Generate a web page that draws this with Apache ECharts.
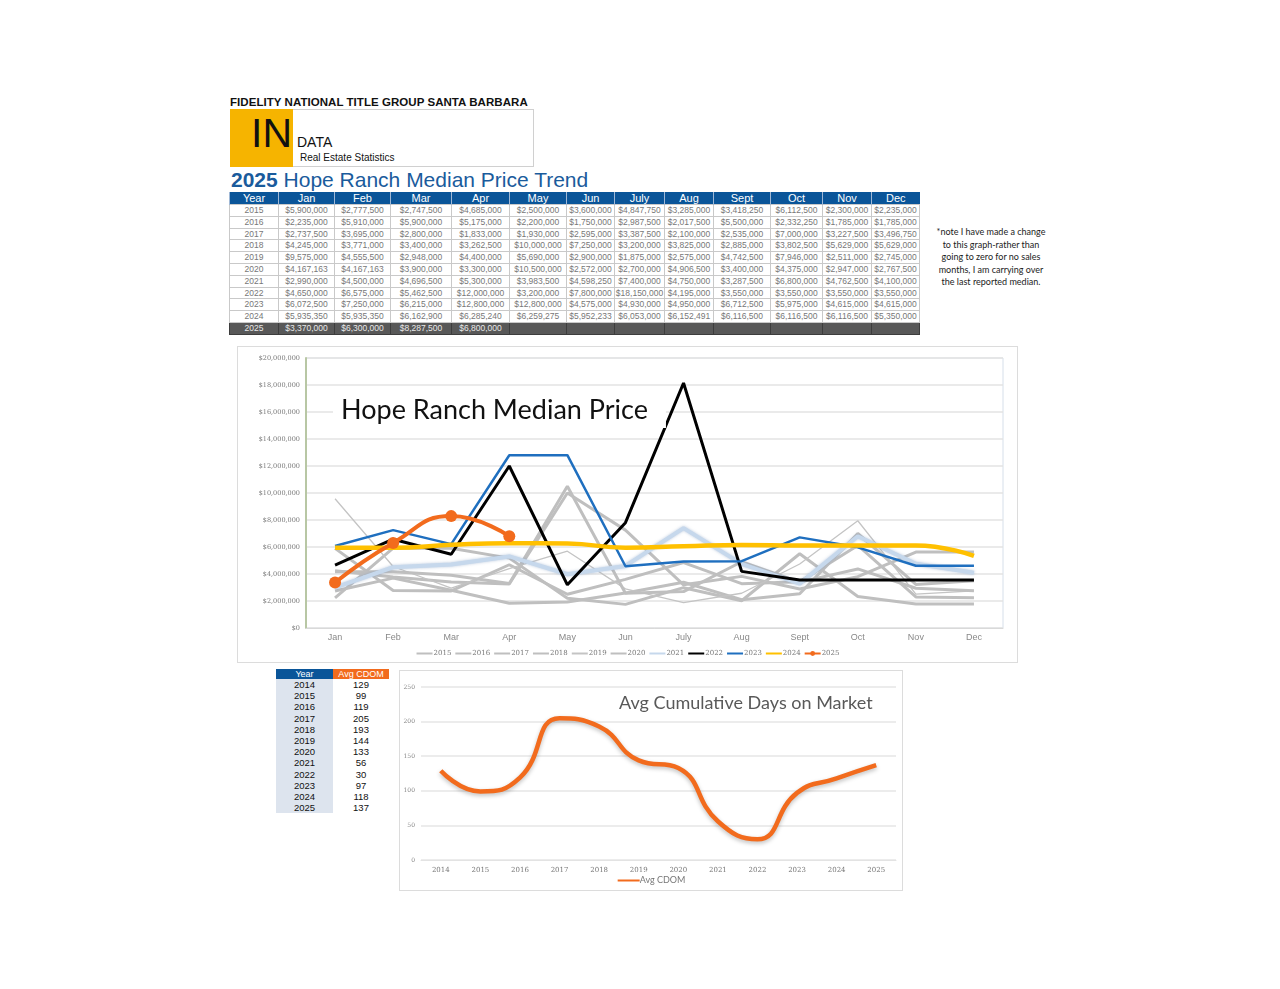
<!DOCTYPE html>
<html>
<head>
<meta charset="utf-8">
<script src="https://cdn.jsdelivr.net/npm/echarts@6/dist/echarts.min.js"></script>
<style>
  html,body{margin:0;padding:0;background:#fff;width:1280px;height:989px;overflow:hidden;}
  .abs{position:absolute;}
  body{font-family:"Liberation Sans",Arial,sans-serif;}
  table{border-collapse:collapse;table-layout:fixed;}
  #priceTable td,#priceTable th{padding:0;text-align:center;white-space:nowrap;overflow:hidden;}
  #priceTable th{background:#0a5599;color:#fff;font-weight:normal;font-size:11px;height:12px;line-height:12px;border-left:1px solid #9fb8d6;}
  #priceTable td{font-size:8.5px;color:#777;height:10.8px;line-height:10.8px;border:1px solid #c9c9c9;background:#fff;}
  #priceTable tr.last td{background:#585858;color:#e8e8e8;border-color:#3d3d3d;}
  #cdomTable td,#cdomTable th{padding:0;text-align:center;}
  #cdomTable th{font-weight:normal;color:#fff;font-size:9px;height:10px;line-height:10px;}
  #cdomTable td{font-size:9.5px;color:#111;height:11.2px;line-height:11.2px;}
</style>
</head>
<body>
<script>
// ---------- DATA ----------
var months = ["Jan","Feb","Mar","Apr","May","Jun","July","Aug","Sept","Oct","Nov","Dec"];
var years = ["2015","2016","2017","2018","2019","2020","2021","2022","2023","2024","2025"];
var y2015 = [5900000,2777500,2747500,4685000,2500000,3600000,4847750,3285000,3418250,6112500,2300000,2235000];
var y2016 = [2235000,5910000,5900000,5175000,2200000,1750000,2987500,2017500,5500000,2332250,1785000,1785000];
var y2017 = [2737500,3695000,2800000,1833000,1930000,2595000,3387500,2100000,2535000,7000000,3227500,3496750];
var y2018 = [4245000,3771000,3400000,3262500,10000000,7250000,3200000,3825000,2885000,3802500,5629000,5629000];
var y2019 = [9575000,4555500,2948000,4400000,5690000,2900000,1875000,2575000,4742500,7946000,2511000,2745000];
var y2020 = [4167163,4167163,3900000,3300000,10500000,2572000,2700000,4906500,3400000,4375000,2947000,2767500];
var y2021 = [2990000,4500000,4696500,5300000,3983500,4598250,7400000,4750000,3287500,6800000,4762500,4100000];
var y2022 = [4650000,6575000,5462500,12000000,3200000,7800000,18150000,4195000,3550000,3550000,3550000,3550000];
var y2023 = [6072500,7250000,6215000,12800000,12800000,4575000,4930000,4950000,6712500,5975000,4615000,4615000];
var y2024 = [5935350,5935350,6162900,6285240,6259275,5952233,6053000,6152491,6116500,6116500,6116500,5350000];
var y2025 = [3370000,6300000,8287500,6800000];
var priceTicks = [0,2000000,4000000,6000000,8000000,10000000,12000000,14000000,16000000,18000000,20000000];

var cdomYears = ["2014","2015","2016","2017","2018","2019","2020","2021","2022","2023","2024","2025"];
var cdomValues = [129,99,119,205,193,144,133,56,30,97,118,137];
var cdomTicks = [0,50,100,150,200,250];

var noteLines = ["*note I have made a change","to this graph-rather than","going to zero for no sales","months, I am carrying over","the last reported median."];
// ---------------------------

var allYears = [y2015,y2016,y2017,y2018,y2019,y2020,y2021,y2022,y2023,y2024,y2025];
function money(v){return "$" + Number(v).toLocaleString("en-US");}
</script>

<div class="abs" style="left:230px;top:96px;font-size:11.5px;font-weight:bold;color:#111;letter-spacing:0.05px;white-space:nowrap;">FIDELITY NATIONAL TITLE GROUP SANTA BARBARA</div>
<div class="abs" style="left:230px;top:109px;width:302px;height:56px;border:1px solid #d0d0d0;"></div>
<div class="abs" style="left:230px;top:109px;width:63px;height:58px;background:#f6b400;"></div>
<div class="abs" style="left:251px;top:111px;font-size:41px;color:#111;font-family:'Liberation Sans',Arial;line-height:44px;">IN</div>
<div class="abs" style="left:297px;top:134px;font-size:14px;color:#111;">DATA</div>
<div class="abs" style="left:300px;top:152px;font-size:10px;color:#111;">Real Estate Statistics</div>
<div class="abs" style="left:231px;top:168px;font-size:21px;color:#1a5b9c;white-space:nowrap;"><b>2025</b> Hope Ranch Median Price Trend</div>

<div id="priceTableWrap" class="abs" style="left:229px;top:192px;"></div>
<div id="note" class="abs" style="left:926px;top:226px;width:130px;text-align:center;font-family:Lato,'Open Sans',sans-serif;font-size:9px;line-height:12.5px;color:#222;"></div>

<div class="abs" style="left:237px;top:346px;width:779px;height:315px;border:1px solid #dcdcdc;"></div>
<div id="main" class="abs" style="left:238px;top:347px;width:779px;height:315px;"></div>

<div id="cdomWrap" class="abs" style="left:276px;top:669px;"></div>

<div class="abs" style="left:399px;top:670px;width:502px;height:219px;border:1px solid #dcdcdc;"></div>
<div id="cdom" class="abs" style="left:400px;top:671px;width:502px;height:219px;"></div>

<script>
// price table
(function(){
  var widths=[49,56,56,61,58,57,48,50,49,57,52,49,48];
  var h='<table id="priceTable" style="width:690px;"><colgroup>';
  widths.forEach(function(w){h+='<col style="width:'+w+'px">';});
  h+='</colgroup><tr><th>Year</th>';
  months.forEach(function(m){h+='<th>'+m+'</th>';});
  h+='</tr>';
  years.forEach(function(y,i){
    h+='<tr'+(i===years.length-1?' class="last"':'')+'><td>'+y+'</td>';
    for(var k=0;k<12;k++){var v=allYears[i][k];h+='<td>'+(v!=null?money(v):'')+'</td>';}
    h+='</tr>';
  });
  h+='</table>';
  document.getElementById('priceTableWrap').innerHTML=h;
  document.getElementById('note').innerHTML=noteLines.join('<br>');
  var c='<table id="cdomTable" style="width:113px;"><colgroup><col style="width:57px"><col style="width:56px"></colgroup>';
  c+='<tr><th style="background:#0a5599">Year</th><th style="background:#f26b1d">Avg CDOM</th></tr>';
  cdomYears.forEach(function(y,i){c+='<tr><td style="background:#dde4ee">'+y+'</td><td style="background:#fff">'+cdomValues[i]+'</td></tr>';});
  c+='</table>';
  document.getElementById('cdomWrap').innerHTML=c;
})();

// main chart
var styles = [
  {c:'#bfbfbf',w:3},{c:'#bfbfbf',w:3},{c:'#bfbfbf',w:3},{c:'#bfbfbf',w:3},
  {c:'#c4c4c4',w:1.3},{c:'#bfbfbf',w:3},{c:'#c6d8ec',w:4,sh:true},
  {c:'#000000',w:3},{c:'#1f6fbf',w:2.5},{c:'#ffc000',w:4.5,smooth:true},
  {c:'#f26b1d',w:4,smooth:true,sym:true}
];
var series = years.map(function(y,i){
  var s=styles[i];
  return {
    name:y,type:'line',data:allYears[i],
    smooth:s.smooth?0.5:false,
    symbol:s.sym?'circle':'none',symbolSize:12,showSymbol:!!s.sym,
    lineStyle:{color:s.c,width:s.w,shadowBlur:s.sh?3:0,shadowColor:'rgba(120,150,190,0.5)'},
    itemStyle:{color:s.c},
    emphasis:{disabled:true},
    animation:false
  };
});
var legendData = years.map(function(y,i){
  return styles[i].sym ? {name:y,itemStyle:{opacity:1}} : {name:y};
});
var chart = echarts.init(document.getElementById('main'),null,{renderer:'canvas'});
chart.setOption({
  animation:false,
  title:{text:'Hope Ranch Median Price',left:95,top:46,backgroundColor:'#fff',padding:[4,18,4,8],
    textStyle:{fontFamily:'Lato, "Open Sans", sans-serif',fontWeight:'normal',fontSize:27,color:'#111'}},
  grid:{left:68,right:14,top:11,bottom:34,show:true,borderColor:'#d6dfea',borderWidth:1},
  legend:{left:'center',top:298,itemWidth:16,itemHeight:6,itemGap:3,
    itemStyle:{opacity:0},
    textStyle:{fontSize:7,color:'#777',fontFamily:'"DejaVu Serif", serif',padding:[0,0,0,-4]},data:legendData},
  xAxis:{type:'category',data:months,boundaryGap:true,
    axisLine:{lineStyle:{color:'#d9d9d9'}},axisTick:{show:false},
    axisLabel:{color:'#888',fontSize:9,margin:5,fontFamily:'"Liberation Sans", Arial'}},
  yAxis:{type:'value',min:priceTicks[0],max:priceTicks[priceTicks.length-1],interval:2000000,
    axisLine:{show:true,lineStyle:{color:'#b8c7a4',width:2}},axisTick:{show:false},
    splitLine:{lineStyle:{color:'#e3e3e3',width:1.5}},
    axisLabel:{color:'#777',fontSize:6.5,margin:6,fontFamily:'"DejaVu Serif", serif',formatter:function(v){return money(v);}}},
  series:series
});

// cdom chart
var chart2 = echarts.init(document.getElementById('cdom'),null,{renderer:'canvas'});
chart2.setOption({
  animation:false,
  title:{text:'Avg Cumulative Days on Market',left:219,top:23,padding:[0,0,0,0],
    textStyle:{fontFamily:'Lato, "Open Sans", sans-serif',fontWeight:'normal',fontSize:18,color:'#595959'}},
  grid:{left:21,right:6,top:16,bottom:30},
  legend:{left:'center',top:200,itemWidth:22,itemHeight:5,itemStyle:{opacity:0},
    textStyle:{fontSize:9,color:'#777',fontFamily:'Lato, sans-serif',padding:[0,0,0,-5]},data:['Avg CDOM']},
  xAxis:{type:'category',data:cdomYears,boundaryGap:true,
    axisLine:{lineStyle:{color:'#e3e3e3'}},axisTick:{show:false},
    axisLabel:{color:'#777',fontSize:7,margin:7,fontFamily:'"DejaVu Serif", serif'}},
  yAxis:{type:'value',min:cdomTicks[0],max:cdomTicks[cdomTicks.length-1],interval:50,
    axisLine:{show:false},axisTick:{show:false},
    splitLine:{lineStyle:{color:'#e6e6e6',width:1.5}},
    axisLabel:{color:'#888',fontSize:6,margin:6,fontFamily:'"DejaVu Serif", serif'}},
  series:[{name:'Avg CDOM',type:'line',data:cdomValues,smooth:0.5,symbol:'none',
    lineStyle:{color:'#f26b1d',width:4.5,shadowBlur:4,shadowColor:'rgba(0,0,0,0.25)',shadowOffsetY:2},
    itemStyle:{color:'#f26b1d'},emphasis:{disabled:true}}]
});
</script>
</body>
</html>
